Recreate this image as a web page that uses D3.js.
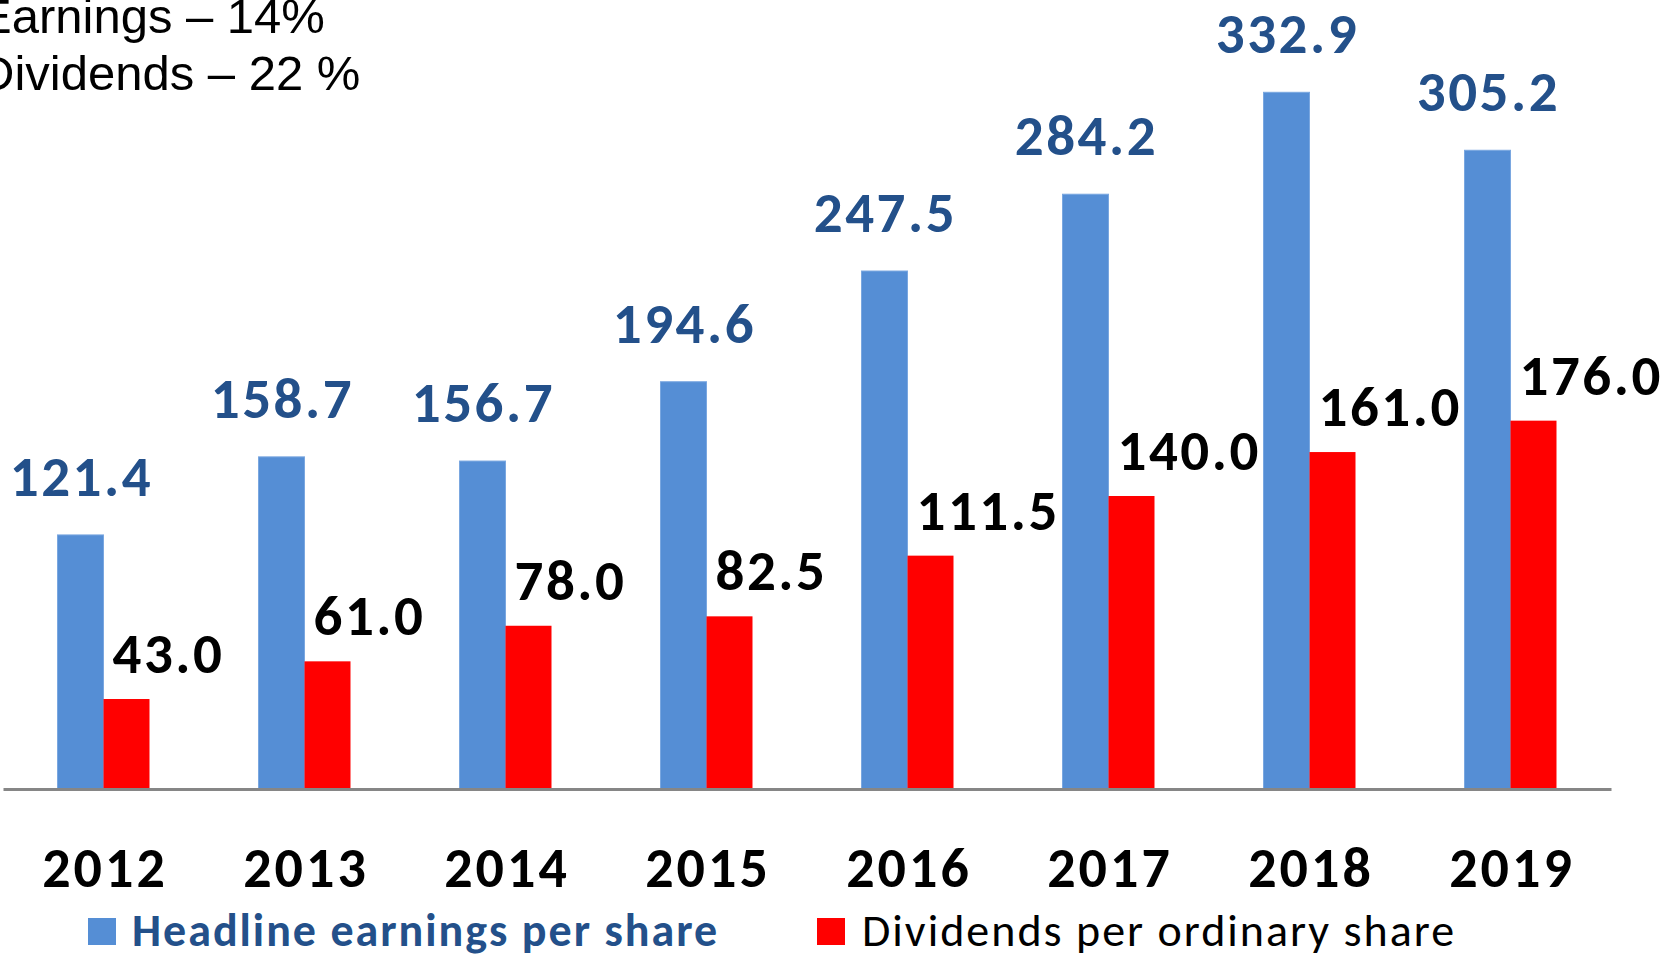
<!DOCTYPE html>
<html>
<head>
<meta charset="utf-8">
<script src="https://cdn.jsdelivr.net/npm/d3@7"></script>
<style>
  html, body { margin: 0; padding: 0; background: #fff; overflow: hidden; }
  svg { display: block; }
</style>
</head>
<body>
<div id="chart"></div>
<script>
// data
const years = ["2012", "2013", "2014", "2015", "2016", "2017", "2018", "2019"];
const earnings = [121.4, 158.7, 156.7, 194.6, 247.5, 284.2, 332.9, 305.2];
const dividends = [43.0, 61.0, 78.0, 82.5, 111.5, 140.0, 161.0, 176.0];
const seriesNames = ["Headline earnings per share", "Dividends per ordinary share"];
const headerLines = ["Earnings \u2013 14%", "Dividends \u2013 22 %"];

const W = 1662, H = 959;
const baseY = 789;
const font = "Carlito, Lato, sans-serif";

const svg = d3.select("#chart")
  .append("svg")
    .attr("width", W)
    .attr("height", H);

// scales
const x0 = d3.scaleBand()
  .domain(years)
  .range([3, 1611])
  .padding(0);

const x1 = d3.scaleBand()
  .domain(["earn", "div"])
  .range([0, x0.bandwidth()])
  .paddingInner(0)
  .paddingOuter(1.185);

const y = d3.scaleLinear()
  .domain([0, 377])
  .range([baseY, 0]);

const rows = years.map((yr, i) => ({ year: yr, earn: earnings[i], div: dividends[i] }));

// header text in the top left corner (cut off at the left edge, as in the source)
svg.append("g")
  .selectAll("text")
  .data(headerLines)
  .enter()
  .append("text")
    .attr("x", -21)
    .attr("y", (d, i) => 33 + i * 57)
    .style("font-family", "'Liberation Sans', Arial, sans-serif")
    .style("font-size", "49px")
    .style("fill", "#000")
    .text(d => d);

// bars
const groups = svg.append("g")
  .selectAll("g")
  .data(rows)
  .enter()
  .append("g")
    .attr("transform", d => `translate(${x0(d.year)},0)`);

groups.append("rect")
    .attr("x", x1("earn"))
    .attr("y", d => y(d.earn))
    .attr("width", x1.bandwidth())
    .attr("height", d => baseY - y(d.earn))
    .style("fill", "#558ed5")
    .style("stroke", "#7aa7e0")
    .style("stroke-width", 1);

groups.append("rect")
    .attr("x", x1("div"))
    .attr("y", d => y(d.div))
    .attr("width", x1.bandwidth())
    .attr("height", d => baseY - y(d.div))
    .style("fill", "#ff0000");

// value labels
groups.append("text")
    .attr("x", x1("earn") + x1.bandwidth() / 2 + 1)
    .attr("y", d => y(d.earn) - 39)
    .attr("text-anchor", "middle")
    .style("font-family", font)
    .style("font-weight", "bold")
    .style("font-size", "57px")
    .style("letter-spacing", "2.5px")
    .style("fill", "#23508a")
    .text(d => d.earn.toFixed(1));

groups.append("text")
    .attr("x", x1("div") + 9)
    .attr("y", d => y(d.div) - 26)
    .attr("text-anchor", "start")
    .style("font-family", font)
    .style("font-weight", "bold")
    .style("font-size", "57px")
    .style("letter-spacing", "2.5px")
    .style("fill", "#000")
    .text(d => d.div.toFixed(1));

// x axis
const xAxis = svg.append("g")
  .attr("transform", `translate(0,${baseY})`)
  .call(d3.axisBottom(x0).tickSize(0).tickSizeOuter(0));

xAxis.select(".domain")
  .style("stroke", "#868686")
  .style("stroke-width", 3);

xAxis.selectAll("text")
  .attr("y", 98)
  .attr("dy", 0)
  .attr("dx", 1.5)
  .style("font-family", font)
  .style("font-weight", "bold")
  .style("font-size", "56px")
  .style("letter-spacing", "3px")
  .style("fill", "#000");

// legend
const legendX = [88, 817];
const legendColors = ["#558ed5", "#ff0000"];
const legend = svg.append("g")
  .selectAll("g")
  .data(seriesNames)
  .enter()
  .append("g")
    .attr("transform", (d, i) => `translate(${legendX[i]},918)`);

legend.append("rect")
    .attr("width", 28)
    .attr("height", 27)
    .style("fill", (d, i) => legendColors[i]);

legend.append("text")
    .attr("x", (d, i) => i === 0 ? 44 : 45)
    .attr("y", 28)
    .style("font-family", font)
    .style("font-size", "46px")
    .style("letter-spacing", "2px")
    .style("font-weight", (d, i) => i === 0 ? "bold" : "normal")
    .style("fill", (d, i) => i === 0 ? "#23508a" : "#000")
    .text(d => d);
</script>
</body>
</html>
